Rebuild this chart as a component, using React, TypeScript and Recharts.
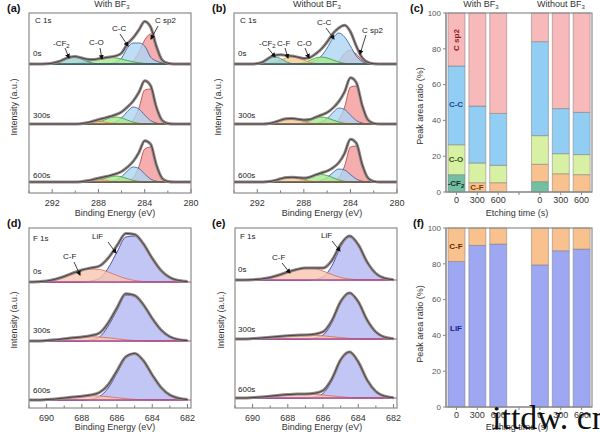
import React from "react";
import { ComposedChart, Area, Line, XAxis, YAxis, ReferenceLine, BarChart, Bar } from "recharts";

const FONT = "Arial, 'Liberation Sans', Helvetica, sans-serif";

// ── energy grids (eV) ─────────────────────────────────────────
const C_BE = [294, 293.5, 293, 292.5, 292, 291.5, 291, 290.5, 290, 289.5, 289, 288.5, 288, 287.5, 287, 286.5, 286, 285.5, 285, 284.5, 284, 283.5, 283, 282.5, 282, 281.5, 281, 280.5, 280];
const F_BE = [691, 690.5, 690, 689.5, 689, 688.5, 688, 687.5, 687, 686.5, 686, 685.5, 685, 684.5, 684, 683.5, 683, 682.5, 682];
const C_TICKS = [294, 292, 290, 288, 286, 284, 282, 280];
const C_LABELED = [292, 288, 284, 280];
const F_TICKS = [691, 690, 689, 688, 687, 686, 685, 684, 683, 682];
const F_LABELED = [690, 688, 686, 684, 682];

// fitted components: at = BE of first value, v = height every 0.5 eV toward lower BE
// ── (a) C 1s, with BF3 ───────────────────────────────────────
const A0_CF2 = { at: 292.5, v: [0.2, 0.7, 2.2, 4.5, 6.6, 6.8, 5, 2.6, 0.9, 0.2] };
const A0_CO = { at: 290.5, v: [0.2, 0.6, 1.2, 2.2, 3.5, 5, 6.1, 6.5, 6.1, 5, 3.5, 2.2, 1.2, 0.6, 0.2] };
const A0_CC = { at: 287, v: [0.5, 2, 6, 16, 21, 21, 18, 7, 3, 1, 0.2] };
const A0_SP2 = { at: 285.5, v: [0.5, 3, 12, 24, 30, 15, 3, 0.5] };

const A300_CF = { at: 289.5, v: [0.3, 1, 2, 2.5, 2, 1, 0.3] };
const A300_CO = { at: 289, v: [0.2, 0.7, 1.9, 3.9, 6.1, 7, 6.1, 3.9, 1.9, 0.7, 0.2] };
const A300_CC = { at: 287, v: [0.4, 2, 6, 12.5, 17, 15, 9, 3.5, 1, 0.2] };
const A300_SP2 = { at: 285.5, v: [0.5, 4, 16, 34, 35, 16, 3.5, 0.5] };

const A600_CF = { at: 289.5, v: [0.3, 1, 1.8, 2.2, 1.8, 0.9, 0.3] };
const A600_CO = { at: 289, v: [0.2, 0.6, 1.6, 3.3, 5.2, 6, 5.2, 3.3, 1.6, 0.6, 0.2] };
const A600_CC = { at: 287, v: [0.3, 1.8, 5.3, 11, 15, 13.5, 8, 3, 0.8, 0.2] };
const A600_SP2 = { at: 285.5, v: [0.5, 4, 15.5, 33, 35, 16.5, 3.6, 0.5] };

// ── (b) C 1s, without BF3 ────────────────────────────────────
const B0_CF2 = { at: 292, v: [0.4, 2.2, 5.5, 7, 5.5, 2.2, 0.4] };
const B0_CF = { at: 291, v: [0.5, 1.7, 3.8, 6.3, 7.5, 6.3, 3.8, 1.7, 0.5] };
const B0_CO = { at: 288.5, v: [0.5, 1.5, 3.5, 6, 7, 6, 4, 2, 0.7, 0.2] };
const B0_CC = { at: 288, v: [0.3, 1.2, 3.5, 8, 16, 26, 31, 27, 18, 8, 2.5, 0.6, 0.1] };
const B0_SP2 = { at: 285.5, v: [0.5, 3, 11, 14, 10, 4, 1, 0.2] };

const B300_CF = { at: 291, v: [0.5, 1.8, 3.8, 5.3, 5.5, 4.3, 2.5, 1, 0.3] };
const B300_CO = { at: 288.5, v: [0.5, 1.5, 3.5, 6, 7, 6, 4, 2, 0.7, 0.2] };
const B300_CC = { at: 287, v: [0.4, 2, 5.5, 11.5, 16, 14.5, 9, 3.5, 1, 0.2] };
const B300_SP2 = { at: 285.5, v: [0.5, 4.5, 17, 37, 38, 18, 4, 0.6] };

const B600_CF = { at: 291, v: [0.4, 1.5, 3.2, 4.5, 4.7, 3.7, 2.1, 0.9, 0.3] };
const B600_CO = { at: 288.5, v: [0.6, 1.8, 4, 6.5, 7.5, 6.5, 4.3, 2.1, 0.7, 0.2] };
const B600_CC = { at: 287, v: [0.3, 1.6, 4.5, 9.5, 13, 12, 7.5, 3, 0.8, 0.2] };
const B600_SP2 = { at: 285.5, v: [0.5, 4.3, 16, 35, 36, 17, 3.8, 0.6] };

// ── (d) F 1s, with BF3 ───────────────────────────────────────
const D0_LIF = { at: 687.5, v: [1, 3.5, 14, 30, 45, 46, 37.5, 23.5, 11.5, 4.5, 1.5, 0.4] };
const D0_CF = { at: 690.5, v: [0.3, 1, 2.8, 5.5, 9, 12, 13, 12.5, 10, 6.5, 3.5, 1.5, 0.5, 0.1] };
const D300_LIF = { at: 687.5, v: [1, 4, 15, 31, 46, 45, 36, 22.5, 11, 4.3, 1.4, 0.4] };
const D300_CF = { at: 690, v: [0.5, 1.2, 2.2, 3.2, 4, 4.3, 4, 3.2, 2.2, 1.2, 0.5, 0.2] };
const D600_LIF = { at: 687.5, v: [0.8, 3.5, 12, 27, 42, 46, 39, 25, 12.5, 5, 1.7, 0.5] };
const D600_CF = { at: 690, v: [0.4, 1, 2, 3, 3.8, 4.2, 4, 3.3, 2.3, 1.3, 0.6, 0.2] };

// ── (e) F 1s, without BF3 ────────────────────────────────────
const E0_LIF = { at: 686.5, v: [0.5, 3, 14, 33, 43, 35, 18, 6.5, 1.7, 0.3] };
const E0_CF = { at: 690, v: [0.3, 1, 2.5, 5, 8, 10.5, 12, 11.5, 9, 5.5, 2.5, 1, 0.3] };
const E300_LIF = { at: 686.5, v: [1, 4, 16, 36, 45.5, 37, 19, 7, 1.8, 0.3] };
const E300_CF = { at: 690, v: [0.4, 1, 1.8, 2.6, 3.3, 3.8, 4, 3.8, 3.2, 2.3, 1.4, 0.6, 0.2] };
const E600_LIF = { at: 686.5, v: [1, 4.5, 17, 37, 45.5, 36, 18, 6.5, 1.7, 0.3] };
const E600_CF = { at: 690, v: [0.4, 1, 1.8, 2.7, 3.4, 3.9, 4, 3.7, 3, 2.1, 1.2, 0.5, 0.1] };

// ── (c) / (f) peak area ratio (%) ────────────────────────────
const ETCH_KEYS = ["w0", "w300", "w600", "gap", "n0", "n300", "n600"];
const ETCH_LABELS = ["0", "300", "600", "", "0", "300", "600"];
const C_CF2 = [9.7, 0, 0, null, 5.8, 0, 0];
const C_CF = [0, 5.2, 5.2, null, 9.7, 10.2, 9.7];
const C_CO = [16.7, 11, 9.7, null, 16, 11.2, 11.2];
const C_CC = [44, 31.8, 29, null, 52.5, 25.2, 23.6];
const C_SP2 = [29.6, 52, 56.1, null, 16, 53.4, 55.5];
const F_LIF = [81.3, 90.3, 91, null, 79.4, 87.3, 88.2];
const F_CF = [18.7, 9.7, 9, null, 20.6, 12.7, 11.8];

// ── layout ───────────────────────────────────────────────────
const PLOT = {
  a: { x: 29, y: 13, w: 162, h: 180 },
  b: { x: 234, y: 13, w: 163, h: 180 },
  c: { x: 446, y: 13, w: 146, h: 179 },
  d: { x: 29, y: 228, w: 162, h: 180 },
  e: { x: 235, y: 228, w: 162, h: 180 },
  f: { x: 446, y: 228, w: 146, h: 179 },
};
const C_OFFSETS = [129, 69, 11];
const D_OFFSETS = [126, 67, 8];
const E_OFFSETS = [128, 69, 10];

const PEAK_ORDER = ["sp2", "cc", "co", "cf", "cf2", "lif", "fcf"];
const PEAK_STYLE: Record<string, { fill: string; stroke: string }> = {
  sp2: { fill: "#f39898", stroke: "#b23a3a" },
  cc: { fill: "#acd6f3", stroke: "#2e5a98" },
  co: { fill: "#a6ea8a", stroke: "#3a9a3a" },
  cf: { fill: "#f4cd8c", stroke: "#cf8a30" },
  cf2: { fill: "#98d4cc", stroke: "#2d8c84" },
  lif: { fill: "#b2b8f2", stroke: "#2a2f98" },
  fcf: { fill: "#f8c6ae", stroke: "#d66a58" },
};

type Peak = { at: number; v: number[] };
type Spectrum = Record<string, Peak>;

const A_SPECTRA: Spectrum[] = [
  { sp2: A0_SP2, cc: A0_CC, co: A0_CO, cf2: A0_CF2 },
  { sp2: A300_SP2, cc: A300_CC, co: A300_CO, cf: A300_CF },
  { sp2: A600_SP2, cc: A600_CC, co: A600_CO, cf: A600_CF },
];
const B_SPECTRA: Spectrum[] = [
  { sp2: B0_SP2, cc: B0_CC, co: B0_CO, cf: B0_CF, cf2: B0_CF2 },
  { sp2: B300_SP2, cc: B300_CC, co: B300_CO, cf: B300_CF },
  { sp2: B600_SP2, cc: B600_CC, co: B600_CO, cf: B600_CF },
];
const D_SPECTRA: Spectrum[] = [
  { lif: D0_LIF, fcf: D0_CF },
  { lif: D300_LIF, fcf: D300_CF },
  { lif: D600_LIF, fcf: D600_CF },
];
const E_SPECTRA: Spectrum[] = [
  { lif: E0_LIF, fcf: E0_CF },
  { lif: E300_LIF, fcf: E300_CF },
  { lif: E600_LIF, fcf: E600_CF },
];

function valueAt(p: Peak, be: number) {
  const i = Math.round((p.at - be) / 0.5);
  return i >= 0 && i < p.v.length ? p.v[i] : 0;
}

function buildRows(grid: number[], spectra: Spectrum[], offsets: number[]) {
  return grid.map((be) => {
    const row: any = { be };
    spectra.forEach((s, si) => {
      let sum = 0;
      Object.keys(s).forEach((k) => {
        const v = valueAt(s[k], be);
        row[`s${si}_${k}`] = [offsets[si], offsets[si] + v];
        sum += v;
      });
      row[`s${si}_env`] = offsets[si] + sum;
    });
    return row;
  });
}

const makeXpsTick = (labeled: number[]) => (props: any) => {
  const { x, y, payload } = props;
  const major = labeled.includes(payload.value);
  return (
    <g>
      <line x1={x} x2={x} y1={y} y2={y - (major ? 4 : 2.5)} stroke="#777" strokeWidth={1} />
      {major && (
        <text x={x} y={y + 12.5} textAnchor="middle" fontSize={9} fill="#333" fontFamily={FONT}>
          {payload.value}
        </text>
      )}
    </g>
  );
};

function XpsChart({ plot, grid, domain, ticks, labeled, spectra, offsets, baseColor }: any) {
  const rows = buildRows(grid, spectra, offsets);
  const pad = 14;
  return (
    <div style={{ position: "absolute", left: plot.x - pad, top: plot.y - 2 }}>
      <ComposedChart width={plot.w + 2 * pad} height={plot.h + 2 + 24} data={rows} margin={{ top: 2, right: pad, bottom: 0, left: pad }}>
        <XAxis dataKey="be" type="number" domain={domain} reversed allowDataOverflow ticks={ticks} interval={0}
          axisLine={false} tickLine={false} tickSize={0} tickMargin={0} height={24} tick={makeXpsTick(labeled)} />
        <YAxis hide type="number" domain={[0, 180]} allowDataOverflow />
        {offsets.map((o: number) => (
          <ReferenceLine key={`b${o}`} y={o} stroke={baseColor} strokeWidth={1} />
        ))}
        {spectra.flatMap((s: Spectrum, si: number) =>
          PEAK_ORDER.filter((k) => s[k]).map((k) => (
            <Area key={`a${si}${k}`} dataKey={`s${si}_${k}`} type="monotone" stroke={PEAK_STYLE[k].stroke} strokeWidth={0.8}
              fill={PEAK_STYLE[k].fill} fillOpacity={0.8} dot={false} activeDot={false} isAnimationActive={false} />
          ))
        )}
        {spectra.map((_: Spectrum, si: number) => (
          <Line key={`r${si}`} dataKey={`s${si}_env`} type="monotone" stroke="#8f8989" strokeWidth={3}
            dot={false} activeDot={false} isAnimationActive={false} />
        ))}
        {spectra.map((_: Spectrum, si: number) => (
          <Line key={`f${si}`} dataKey={`s${si}_env`} type="monotone" stroke="#4a3434" strokeWidth={0.9}
            dot={false} activeDot={false} isAnimationActive={false} />
        ))}
      </ComposedChart>
    </div>
  );
}

function RatioChart({ plot, series }: { plot: any; series: { key: string; vals: (number | null)[]; fill: string }[] }) {
  const data = ETCH_KEYS.map((k, i) => {
    const row: any = { key: k };
    series.forEach((s) => (row[s.key] = s.vals[i]));
    return row;
  });
  return (
    <div style={{ position: "absolute", left: plot.x - 44, top: plot.y - 6 }}>
      <BarChart width={plot.w + 44 + 8} height={plot.h + 6 + 24} data={data} margin={{ top: 6, right: 8, bottom: 0, left: 4 }} barSize={17}>
        <XAxis dataKey="key" height={24} tickFormatter={(v: string) => ETCH_LABELS[ETCH_KEYS.indexOf(v)]} interval={0}
          tick={{ fontSize: 9, fill: "#333", fontFamily: FONT }} axisLine={{ stroke: "#888" }} tickLine={{ stroke: "#888" }} tickSize={3} tickMargin={2} />
        <YAxis width={40} domain={[0, 100]} ticks={[0, 20, 40, 60, 80, 100]} tick={{ fontSize: 8, fill: "#555", fontFamily: FONT }}
          axisLine={{ stroke: "#888" }} tickLine={{ stroke: "#888" }} tickSize={3} tickMargin={2} />
        {series.map((s) => (
          <Bar key={s.key} dataKey={s.key} stackId="s" fill={s.fill} stroke="#7a7a7a" strokeWidth={0.5} isAnimationActive={false} />
        ))}
      </BarChart>
    </div>
  );
}

const Sub = ({ c }: { c: string }) => (
  <tspan fontSize={6} dy={2}>{c}</tspan>
);

function Arrow({ x1, y1, x2, y2 }: any) {
  return <line x1={x1} y1={y1} x2={x2} y2={y2} stroke="#111" strokeWidth={0.8} markerEnd="url(#ah)" />;
}

function VText({ x, y, children, size = 9, color = "#333", weight = "normal" }: any) {
  return (
    <text x={x} y={y} transform={`rotate(-90 ${x} ${y})`} textAnchor="middle" fontSize={size} fill={color} fontWeight={weight}>
      {children}
    </text>
  );
}

function Overlay() {
  const frames = Object.values(PLOT);
  const small = { fontSize: 8, fill: "#222" };
  return (
    <svg width={600} height={432} style={{ position: "absolute", left: 0, top: 0, pointerEvents: "none" }} fontFamily={FONT}>
      <defs>
        <marker id="ah" markerWidth="5" markerHeight="5" refX="4" refY="2.5" orient="auto" markerUnits="userSpaceOnUse">
          <path d="M0,0 L5,2.5 L0,5 z" fill="#111" />
        </marker>
      </defs>
      {frames.map((p, i) => (
        <rect key={i} x={p.x} y={p.y} width={p.w} height={p.h} fill="none" stroke="#8c8c8c" strokeWidth={1.2} />
      ))}

      {/* panel letters */}
      <g fontSize={11} fontWeight="bold" fill="#111">
        <text x={7} y={12}>(a)</text>
        <text x={212} y={12}>(b)</text>
        <text x={410} y={12}>(c)</text>
        <text x={7} y={227}>(d)</text>
        <text x={212} y={227}>(e)</text>
        <text x={413} y={227}>(f)</text>
      </g>

      {/* column headers */}
      <g fontSize={9} fill="#333" textAnchor="middle">
        <text x={112} y={6.5}>With BF<Sub c="3" /></text>
        <text x={317} y={6.5}>Without BF<Sub c="3" /></text>
        <text x={481} y={6.5}>With BF<Sub c="3" /></text>
        <text x={561} y={6.5}>Without BF<Sub c="3" /></text>
      </g>

      {/* axis titles */}
      <g fontSize={9} fill="#333" textAnchor="middle">
        <text x={115} y={216}>Binding Energy (eV)</text>
        <text x={322} y={216}>Binding Energy (eV)</text>
        <text x={115} y={430}>Binding Energy (eV)</text>
        <text x={322} y={430}>Binding Energy (eV)</text>
        <text x={517} y={216}>Etching time (s)</text>
        <text x={517} y={430}>Etching time (s)</text>
      </g>
      <VText x={17} y={107}>Intensity (a.u.)</VText>
      <VText x={221} y={107}>Intensity (a.u.)</VText>
      <VText x={17} y={320}>Intensity (a.u.)</VText>
      <VText x={224} y={320}>Intensity (a.u.)</VText>
      <VText x={423} y={106}>Peak area ratio (%)</VText>
      <VText x={423} y={324}>Peak area ratio (%)</VText>

      {/* (a) */}
      <g {...small}>
        <text x={35} y={23}>C 1s</text>
        <text x={33} y={56}>0s</text>
        <text x={33} y={118}>300s</text>
        <text x={33} y={178}>600s</text>
        <text x={53} y={46}>-CF<Sub c="2" /></text>
        <text x={89} y={45}>C-O</text>
        <text x={112} y={31}>C-C</text>
        <text x={155} y={23}>C sp2</text>
        <text x={240} y={23}>C 1s</text>
        <text x={238} y={56}>0s</text>
        <text x={238} y={118}>300s</text>
        <text x={238} y={178}>600s</text>
        <text x={259} y={46}>-CF<Sub c="2" /></text>
        <text x={277} y={46}>C-F</text>
        <text x={297} y={46}>C-O</text>
        <text x={317} y={25}>C-C</text>
        <text x={362} y={33}>C sp2</text>
        <text x={33} y={241}>F 1s</text>
        <text x={92} y={239}>LiF</text>
        <text x={63} y={259}>C-F</text>
        <text x={33} y={274}>0s</text>
        <text x={33} y={333}>300s</text>
        <text x={33} y={393}>600s</text>
        <text x={240} y={239}>F 1s</text>
        <text x={321} y={238}>LiF</text>
        <text x={272} y={260}>C-F</text>
        <text x={238} y={272}>0s</text>
        <text x={238} y={332}>300s</text>
        <text x={238} y={392}>600s</text>
      </g>
      <Arrow x1={65} y1={48} x2={69} y2={58} />
      <Arrow x1={100} y1={48} x2={102} y2={59} />
      <Arrow x1={120} y1={34} x2={128} y2={46} />
      <Arrow x1={158} y1={26} x2={151} y2={39} />
      <Arrow x1={268} y1={48} x2={275} y2={57} />
      <Arrow x1={285} y1={48} x2={288} y2={58} />
      <Arrow x1={305} y1={48} x2={309} y2={58} />
      <Arrow x1={326} y1={28} x2={334} y2={39} />
      <Arrow x1={366} y1={35} x2={360} y2={54} />
      <Arrow x1={108} y1={242} x2={116} y2={253} />
      <Arrow x1={74} y1={262} x2={80} y2={275} />
      <Arrow x1={332} y1={241} x2={340} y2={251} />
      <Arrow x1={282} y1={263} x2={290} y2={273} />

      {/* bar labels */}
      <g fontSize={8} fontWeight="bold" textAnchor="middle">
        <text x={456} y={107} fill="#1d3f8f">C-C</text>
        <text x={456} y={162} fill="#2f5a10">C-O</text>
        <text x={456} y={186} fill="#1c2c2c">-CF<Sub c="2" /></text>
        <text x={477} y={190} fill="#7b3a00">C-F</text>
        <text x={456} y={249} fill="#5a2a00">C-F</text>
        <text x={456} y={331} fill="#1a237e">LiF</text>
      </g>
      <VText x={459} y={40} size={8} color="#8b1c1c" weight="bold">C sp2</VText>

      <text x={492} y={429} fontFamily="'Liberation Serif', 'Times New Roman', serif" fontSize={34} fill="#111">ittdw. cn</text>
    </svg>
  );
}

export default function App() {
  return (
    <div style={{ position: "absolute", left: 0, top: 0, width: 600, height: 432, background: "#fff", overflow: "hidden", fontFamily: FONT }}>
      <XpsChart plot={PLOT.a} grid={C_BE} domain={[280, 294]} ticks={C_TICKS} labeled={C_LABELED} spectra={A_SPECTRA} offsets={C_OFFSETS} baseColor="#45385a" />
      <XpsChart plot={PLOT.b} grid={C_BE} domain={[280, 294]} ticks={C_TICKS} labeled={C_LABELED} spectra={B_SPECTRA} offsets={C_OFFSETS} baseColor="#45385a" />
      <XpsChart plot={PLOT.d} grid={F_BE} domain={[681.8, 691]} ticks={F_TICKS} labeled={F_LABELED} spectra={D_SPECTRA} offsets={D_OFFSETS} baseColor="#a83aa0" />
      <XpsChart plot={PLOT.e} grid={F_BE} domain={[681.8, 691]} ticks={F_TICKS} labeled={F_LABELED} spectra={E_SPECTRA} offsets={E_OFFSETS} baseColor="#a83aa0" />
      <RatioChart plot={PLOT.c} series={[
        { key: "cf2", vals: C_CF2, fill: "#72bfa3" },
        { key: "cf", vals: C_CF, fill: "#f8c18e" },
        { key: "co", vals: C_CO, fill: "#d8f0a4" },
        { key: "cc", vals: C_CC, fill: "#92cdf3" },
        { key: "sp2", vals: C_SP2, fill: "#f7b9b9" },
      ]} />
      <RatioChart plot={PLOT.f} series={[
        { key: "lif", vals: F_LIF, fill: "#9ea7f1" },
        { key: "cf", vals: F_CF, fill: "#f8c18e" },
      ]} />
      <Overlay />
    </div>
  );
}
